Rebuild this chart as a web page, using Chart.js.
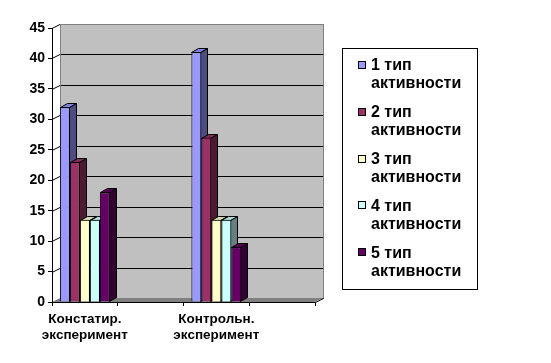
<!DOCTYPE html>
<html>
<head>
<meta charset="utf-8">
<script src="https://cdn.jsdelivr.net/npm/chart.js@4/dist/chart.umd.min.js"></script>
<style>
  html, body { margin: 0; padding: 0; background: #fff; }
  #wrap { width: 551px; height: 363px; }
</style>
</head>
<body>
<div id="wrap"><canvas id="activity_chart" width="551" height="363"></canvas></div>
<script>
// data
const categories = [['Констатир.', 'эксперимент'], '', ['Контрольн.', 'эксперимент'], '']
const series_names = [
    ['1 тип', 'активности'],
    ['2 тип', 'активности'],
    ['3 тип', 'активности'],
    ['4 тип', 'активности'],
    ['5 тип', 'активности']
]
const type1 = [32, null, 41, null]
const type2 = [23, null, 27, null]
const type3 = [13.5, null, 13.5, null]
const type4 = [13.5, null, 13.5, null]
const type5 = [18, null, 9, null]
const y_max = 45
const y_step = 5

const colors = ['#9999ff', '#993366', '#ffffcc', '#ccffff', '#660066']
const FAMILY = "'Liberation Sans', Arial, sans-serif"
const AXIS_FONT = {family: FAMILY, size: 13.5, weight: 'bold'}
const LEGEND_SIZE = 16

// depth of the fake 3D
const DX = 7, DY = -4     // bars
const WX = 8, WY = -4     // back wall

function shade(hex, k)
{
    const n = parseInt(hex.slice(1), 16)
    const r = Math.round(((n >> 16) & 255) * k)
    const g = Math.round(((n >> 8) & 255) * k)
    const b = Math.round((n & 255) * k)
    return `rgb(${r}, ${g}, ${b})`
}

const wall_plugin = {
    id: 'wall',
    beforeDraw(chart)
    {
        const ctx = chart.ctx
        const a = chart.chartArea
        const ys = chart.scales.y
        ctx.save()
        // back wall
        ctx.fillStyle = '#c0c0c0'
        ctx.fillRect(a.left + WX, a.top + WY, a.right - a.left, a.bottom - a.top)
        // floor
        ctx.fillStyle = '#808080'
        ctx.beginPath()
        ctx.moveTo(a.left, a.bottom)
        ctx.lineTo(a.right, a.bottom)
        ctx.lineTo(a.right + WX, a.bottom + WY)
        ctx.lineTo(a.left + WX, a.bottom + WY)
        ctx.closePath()
        ctx.fill()
        // wall gridlines + side wall lines
        ctx.strokeStyle = '#000'
        ctx.lineWidth = 1
        for (let v = y_step; v <= y_max; v += y_step)
        {
            const y = Math.round(ys.getPixelForValue(v)) + 0.5
            ctx.beginPath()
            ctx.moveTo(a.left + WX, y + WY)
            ctx.lineTo(a.right + WX, y + WY)
            ctx.stroke()
            ctx.beginPath()
            ctx.moveTo(a.left, y)
            ctx.lineTo(a.left + WX, y + WY)
            ctx.stroke()
        }
        // wall border
        ctx.strokeStyle = '#808080'
        ctx.strokeRect(a.left + WX + 0.5, a.top + WY + 0.5, a.right - a.left, a.bottom - a.top)
        ctx.strokeStyle = '#000'
        ctx.beginPath()
        ctx.moveTo(a.right + 0.5, a.bottom + 0.5)
        ctx.lineTo(a.right + WX + 0.5, a.bottom + WY + 0.5)
        ctx.stroke()
        ctx.restore()
    },
    beforeDatasetsDraw(chart)
    {
        const ctx = chart.ctx
        const metas = chart.getSortedVisibleDatasetMetas()
        ctx.save()
        ctx.strokeStyle = '#000'
        ctx.lineWidth = 1
        for (let i = 0; i < chart.data.labels.length; i++)
        {
            metas.forEach((meta) => {
                const value = chart.data.datasets[meta.index].data[i]
                if (value === null || value === undefined) return
                const bar = meta.data[i]
                const p = bar.getProps(['x', 'y', 'base', 'width'], true)
                const l = Math.round(p.x - p.width / 2) + 0.5
                const r = Math.round(p.x + p.width / 2) - 0.5
                const t = Math.round(p.y) + 0.5
                const b = Math.round(p.base) - 0.5
                const base_color = colors[meta.index]
                // side face
                ctx.fillStyle = shade(base_color, 0.5)
                ctx.beginPath()
                ctx.moveTo(r, t)
                ctx.lineTo(r + DX, t + DY)
                ctx.lineTo(r + DX, b + DY)
                ctx.lineTo(r, b)
                ctx.closePath()
                ctx.fill()
                ctx.stroke()
                // top face
                ctx.fillStyle = shade(base_color, 0.85)
                ctx.beginPath()
                ctx.moveTo(l, t)
                ctx.lineTo(l + DX, t + DY)
                ctx.lineTo(r + DX, t + DY)
                ctx.lineTo(r, t)
                ctx.closePath()
                ctx.fill()
                ctx.stroke()
                // front face, by the library
                bar.draw(ctx)
            })
        }
        ctx.restore()
        return false
    },
    afterDraw(chart)
    {
        // legend box with two-line entries
        const ctx = chart.ctx
        ctx.save()
        ctx.strokeStyle = '#000'
        ctx.lineWidth = 1
        ctx.strokeRect(342.5, 48.5, 135, 241)
        ctx.font = `bold ${LEGEND_SIZE}px ${FAMILY}`
        ctx.textBaseline = 'middle'
        ctx.textAlign = 'left'
        chart.data.datasets.forEach((ds, k) => {
            const yc = 65 + k * 46.8
            ctx.fillStyle = colors[k]
            ctx.fillRect(358, Math.round(yc) - 4, 8, 8)
            ctx.strokeRect(358.5, Math.round(yc) - 3.5, 7, 7)
            ctx.fillStyle = '#000'
            ds.label_lines.forEach((line, j) => ctx.fillText(line, 371, yc + 1 + j * 18))
        })
        ctx.restore()
    }
}

const all_series = [type1, type2, type3, type4, type5]

const ctx = document.getElementById('activity_chart').getContext('2d')
const activity_chart = new Chart(ctx, {
    type: 'bar',
    data: {
        labels: categories,
        datasets: all_series.map((values, k) => ({
            label: series_names[k].join(' '),
            label_lines: series_names[k],
            data: values,
            backgroundColor: colors[k],
            borderColor: '#000',
            borderWidth: 1,
            categoryPercentage: 0.76,
            barPercentage: 1.0
        }))
    },
    options: {
        responsive: false,
        animation: false,
        devicePixelRatio: 1,
        layout: {padding: {top: 28, right: 236, left: 0, bottom: 0}},
        plugins: {
            legend: {display: false},
            tooltip: {enabled: false}
        },
        scales: {
            x: {
                offset: true,
                grid: {display: true, drawOnChartArea: false, offset: true, tickLength: 4, color: '#000'},
                border: {display: true, color: '#000'},
                ticks: {color: '#000', font: {...AXIS_FONT, lineHeight: 1.2}, maxRotation: 0, autoSkip: false, padding: 5},
                afterFit(scale) { scale.height = 61 }
            },
            y: {
                min: 0,
                max: y_max,
                grid: {display: true, drawOnChartArea: false, tickLength: 4, color: '#000'},
                border: {display: true, color: '#000'},
                ticks: {stepSize: y_step, color: '#000', font: {...AXIS_FONT, size: 14}, padding: 3},
                afterFit(scale) { scale.width = 52 }
            }
        }
    },
    plugins: [wall_plugin]
})
</script>
</body>
</html>
